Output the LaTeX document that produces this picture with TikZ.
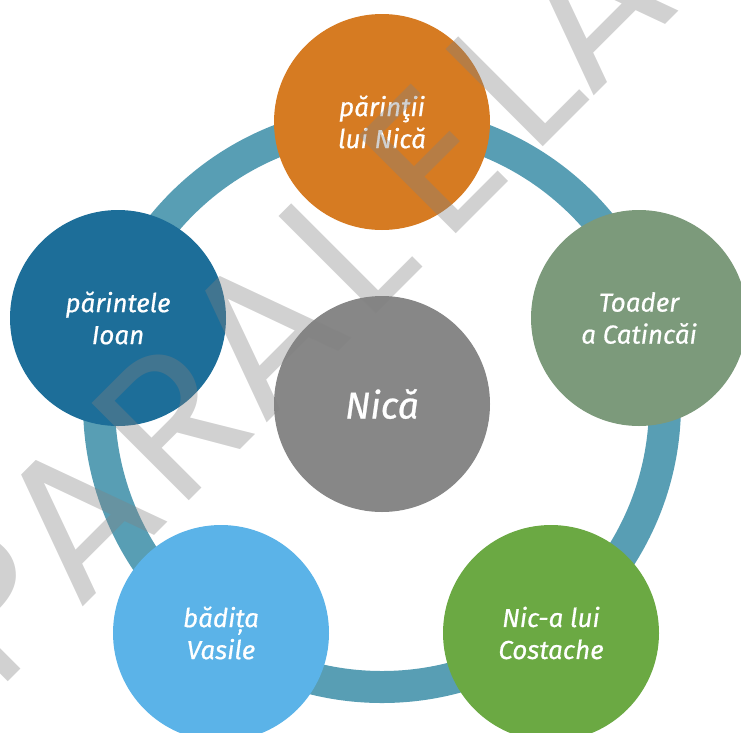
\documentclass[tikz,border=0pt]{standalone}
\usepackage{fontspec}
\usetikzlibrary{calc}
\setmainfont{Fira Sans}
\newfontfamily\bubfont{Fira Sans}[ItalicFeatures={FakeBold=0.6}]
\newfontfamily\wmfont{Poppins}
\definecolor{ringblue}{HTML}{589EB4}
\definecolor{nicagrey}{HTML}{878787}
\definecolor{orangebub}{HTML}{D67B22}
\definecolor{sagebub}{HTML}{7C9A7B}
\definecolor{leafbub}{HTML}{6BA943}
\definecolor{skybub}{HTML}{5BB3E8}
\definecolor{navybub}{HTML}{1D6E99}
\definecolor{wmgrey}{RGB}{129,129,129}
\tikzset{bubble/.style={circle,fill=#1,minimum size=162pt,inner sep=0pt,text=white,align=center,
    font=\bubfont\itshape\fontsize{19.5pt}{24pt}\selectfont}}
\tikzset{wm/.style={inner sep=0pt,anchor=base,rotate=45,text=wmgrey,text opacity=0.37,
    font=\wmfont\fontsize{148pt}{148pt}\selectfont}}

\begin{document}
\begin{tikzpicture}[x=0.75pt,y=-0.75pt]
    \useasboundingbox (0,0) rectangle (741,732);
    \coordinate (ring) at (382,404);
    \draw[ringblue,line width=24pt] (ring) circle (212.25pt);
    \node[bubble=nicagrey,font=\bubfont\itshape\fontsize{28pt}{32pt}\selectfont] (nica) at (382,404) {Nică};
    \node[bubble=orangebub] (parinti) at (382,122) {părinţii\\lui Nică};
    \node[bubble=sagebub] (toader) at (639,318) {Toader\\a Catincăi};
    \node[bubble=leafbub] (nic) at (551,633) {Nic-a lui\\Costache};
    \node[bubble=skybub] (badita) at (221,633) {bădița\\Vasile};
    \node[bubble=navybub] (parintele) at (118,318) {părintele\\Ioan};
    % watermark, one letter at a time along the diagonal
    \coordinate (wmbase) at (345,345);
    \foreach \ch/\s [count=\i] in {P/-434,A/-310,R/-176,A/-50,L/71,E/193,L/308,A/412}
        \node[wm] (wm\i) at ($(wmbase)+(-45:\s)$) {\ch};
\end{tikzpicture}
\end{document}
